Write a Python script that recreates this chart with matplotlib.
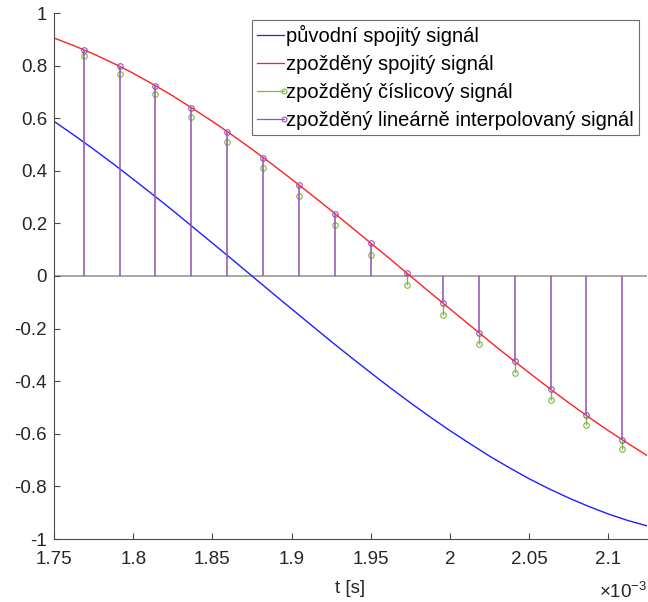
import matplotlib
matplotlib.use("Agg")
import matplotlib.pyplot as plt
from matplotlib.lines import Line2D
from matplotlib.legend_handler import HandlerBase
from matplotlib.ticker import FuncFormatter, MultipleLocator

plt.rcParams['font.family'] = ['Liberation Sans', 'DejaVu Sans']
plt.rcParams['mathtext.fontset'] = 'custom'
plt.rcParams['mathtext.rm'] = 'Liberation Sans'
plt.rcParams['mathtext.it'] = 'Liberation Sans'
plt.rcParams['axes.unicode_minus'] = False

# ---- data (time in ms) ----
t_cont = [1.7500, 1.7625, 1.7750, 1.7875, 1.8000, 1.8125, 1.8250, 1.8375,
          1.8500, 1.8625, 1.8750, 1.8875, 1.9000, 1.9125, 1.9250, 1.9375,
          1.9500, 1.9625, 1.9750, 1.9875, 2.0000, 2.0125, 2.0250, 2.0375,
          2.0500, 2.0625, 2.0750, 2.0875, 2.1000, 2.1125, 2.1250]
original = [0.588, 0.536, 0.482, 0.426, 0.368, 0.309, 0.249, 0.187,
            0.125, 0.063, 0.000, -0.063, -0.125, -0.187, -0.249, -0.309,
            -0.368, -0.426, -0.482, -0.536, -0.588, -0.637, -0.685, -0.729,
            -0.771, -0.809, -0.844, -0.876, -0.905, -0.930, -0.951]
delayed = [0.905, 0.876, 0.844, 0.809, 0.771, 0.729, 0.685, 0.637,
           0.588, 0.536, 0.482, 0.426, 0.368, 0.309, 0.249, 0.187,
           0.125, 0.063, 0.000, -0.063, -0.125, -0.187, -0.249, -0.309,
           -0.368, -0.426, -0.482, -0.536, -0.588, -0.637, -0.685]

t_samp = [1.76871, 1.79138, 1.81406, 1.83673, 1.85941, 1.88209, 1.90476, 1.92744,
          1.95011, 1.97279, 1.99546, 2.01814, 2.04082, 2.06349, 2.08617, 2.10884]
digital = [0.837, 0.769, 0.692, 0.605, 0.510, 0.409, 0.303, 0.193,
           0.080, -0.034, -0.148, -0.259, -0.367, -0.471, -0.568, -0.658]
interp = [0.861, 0.797, 0.724, 0.640, 0.549, 0.450, 0.346, 0.237,
          0.125, 0.011, -0.103, -0.215, -0.325, -0.430, -0.530, -0.623]

labels = ['původní spojitý signál', 'zpožděný spojitý signál',
          'zpožděný číslicový signál', 'zpožděný lineárně interpolovaný signál']

c_blue = '#1f1fff'
c_red = '#ff2020'
c_green = '#7fb83c'
c_purple = '#9555b3'
axc = '#4a4a4a'
txtc = '#262626'

fig = plt.figure(figsize=(6.48, 6.02), dpi=100)
W, H = 648, 602
ax = fig.add_axes([54 / W, 1 - 539 / H, (647 - 54) / W, (539 - 13) / H])

ax.axhline(0, color='#8f8f8f', lw=1.1, zorder=1)

ax.plot([t * 1e-3 for t in t_cont], original, color=c_blue, lw=1.0, zorder=2)
ax.plot([t * 1e-3 for t in t_cont], delayed, color=c_red, lw=1.0, zorder=2)

ts = [t * 1e-3 for t in t_samp]

# green stems: only the part not hidden behind the purple stems is drawn
g_x, g_lo, g_hi = [], [], []
for x, d, i in zip(ts, digital, interp):
    if d * i > 0:
        if abs(d) > abs(i):
            g_x.append(x); g_lo.append(min(i, d)); g_hi.append(max(i, d))
    else:
        g_x.append(x); g_lo.append(min(0, d)); g_hi.append(max(0, d))
ax.vlines(g_x, g_lo, g_hi, color=c_green, lw=1.0, zorder=3)
ax.plot(ts, digital, ls='none', marker='o', markersize=4, markerfacecolor='none',
        markeredgecolor=c_green, markeredgewidth=0.8, zorder=3)

ax.vlines(ts, 0, interp, color=c_purple, lw=1.15, zorder=4)
ax.plot(ts, interp, ls='none', marker='o', markersize=4, markerfacecolor='none',
        markeredgecolor=c_purple, markeredgewidth=0.8, zorder=4)

ax.set_xlim(1.75e-3, 2.1244e-3)
ax.set_ylim(-1, 1)
ax.xaxis.set_major_locator(MultipleLocator(0.05e-3))
ax.yaxis.set_major_locator(MultipleLocator(0.2))
ax.xaxis.set_major_formatter(FuncFormatter(lambda v, p: '%g' % round(v * 1e3, 4)))
ax.yaxis.set_major_formatter(FuncFormatter(lambda v, p: '%g' % round(v, 4)))

for s in ('top', 'right'):
    ax.spines[s].set_visible(False)
for s in ('left', 'bottom'):
    ax.spines[s].set_color(axc)
    ax.spines[s].set_linewidth(0.8)
ax.tick_params(direction='in', length=4, width=0.8, color=axc,
               labelsize=13.5, labelcolor=txtc)
ax.tick_params(axis='x', pad=9)
ax.tick_params(axis='y', pad=5)

ax.set_xlabel('t [s]', fontsize=13.5, color=txtc, labelpad=8)
fig.text(0.9985, 0.0, r'$\times10^{-3}$', ha='right', va='bottom',
         fontsize=13.5, color=txtc)


class EndMarkerHandler(HandlerBase):
    def __init__(self, color, marker=True):
        super().__init__()
        self.color = color
        self.marker = marker

    def create_artists(self, legend, orig, xdescent, ydescent, width, height,
                       fontsize, trans):
        y = height / 2 - ydescent
        arts = [Line2D([-xdescent, width - xdescent], [y, y], color=self.color, lw=0.9)]
        if self.marker:
            arts.append(Line2D([width - xdescent], [y], marker='o', markersize=3.5,
                               markerfacecolor='none', markeredgecolor=self.color,
                               markeredgewidth=0.8, ls='none'))
        for a in arts:
            a.set_transform(trans)
        return arts


h = [Line2D([], []), Line2D([], []), Line2D([], []), Line2D([], [])]
hmap = {h[0]: EndMarkerHandler(c_blue, False), h[1]: EndMarkerHandler(c_red, False),
        h[2]: EndMarkerHandler(c_green), h[3]: EndMarkerHandler(c_purple)}
leg = ax.legend(h, labels, handler_map=hmap, loc='upper right',
                bbox_to_anchor=(639 / W, 1 - 20 / H), bbox_transform=fig.transFigure,
                fontsize=14.5, frameon=True, fancybox=False, framealpha=1,
                edgecolor='#6e6e6e', handlelength=1.35, handletextpad=0.12,
                labelspacing=0.45, borderpad=0.25, borderaxespad=0)
leg.get_frame().set_linewidth(0.8)
leg.set_zorder(10)

fig.savefig('out.png', dpi=100, facecolor='white')
